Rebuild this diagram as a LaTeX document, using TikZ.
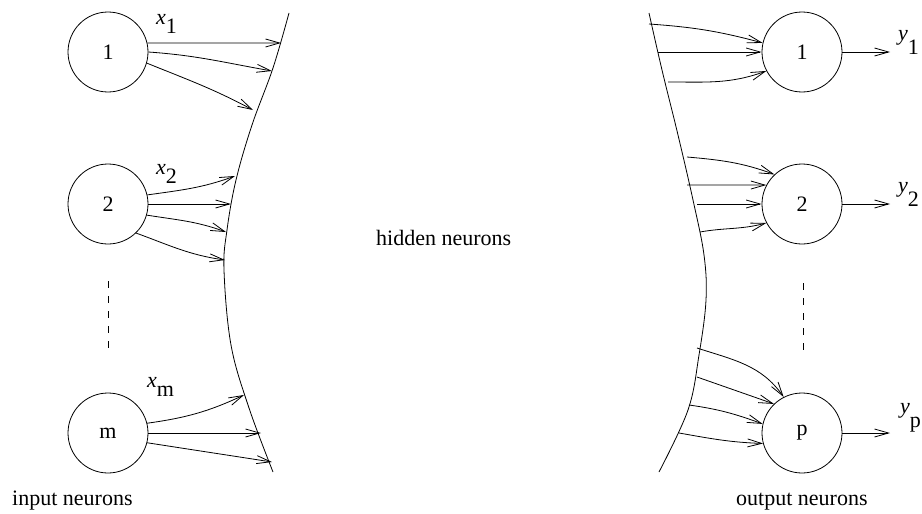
\documentclass[tikz,border=0pt]{standalone}
\usepackage{fontspec}
\setmainfont{Liberation Serif}
\usetikzlibrary{arrows.meta}
\begin{document}
\begin{tikzpicture}[x=1pt,y=-1pt,
  every node/.style={font=\fontsize{22}{26}\selectfont},
  neuron/.style={draw,circle,minimum size=80pt,inner sep=0pt,line width=0.8pt},
  conn/.style={line width=0.8pt,-{Straight Barb[length=14pt,width=8pt,line width=0.8pt]}},
  boundary/.style={line width=0.8pt},
  dots/.style={line width=0.8pt,dash pattern=on 7pt off 8pt},
  lbl/.style={inner sep=0pt,anchor=base west}]
\useasboundingbox (0,0) rectangle (922,514);

% input neurons
\node[neuron] (i1) at (108,52) {1};
\node[neuron] (i2) at (108,204) {2};
\node[neuron] (im) at (108,433) {m};
% output neurons
\node[neuron] (o1) at (802,52) {1};
\node[neuron] (o2) at (802,204) {2};
\node[neuron] (op) at (802,433) {p};

% left boundary of the hidden layer
\coordinate (l11) at (281,43);
\coordinate (l12) at (272,71);
\coordinate (l13) at (253,110);
\coordinate (l21) at (235,176);
\coordinate (l22) at (231,204);
\coordinate (l23) at (226,232);
\coordinate (l24) at (225,260);
\coordinate (lm1) at (244,395);
\coordinate (lm2) at (261,433);
\coordinate (lm3) at (272,462);
\draw[boundary] plot[smooth,tension=0.6] coordinates {(289,13) (273,68) (252,125) (236,180) (227,230) (224,270) (231,345) (249,408) (273,472)};

% right boundary of the hidden layer
\coordinate (r11) at (649,24);
\coordinate (r12) at (658,52);
\coordinate (r13) at (668,82);
\coordinate (r21) at (687,157);
\coordinate (r22) at (687,185);
\coordinate (r23) at (697,204);
\coordinate (r24) at (700,232);
\coordinate (rp1) at (697,348);
\coordinate (rp2) at (697,377);
\coordinate (rp3) at (689,405);
\coordinate (rp4) at (679,433);
\draw[boundary] plot[smooth,tension=0.6] coordinates {(649,13) (662,70) (678,135) (693,200) (704,255) (706,300) (699,355) (688,410) (659,472)};

% connections from the input neurons
\draw[conn] (i1.13) -- (l11);
\draw[conn] (i1.east) to[out=-4,in=170] (l12);
\draw[conn] (i1.-16) to[out=-22,in=152] (l13);
\draw[conn] (i2.13) to[out=8,in=-160] (l21);
\draw[conn] (i2.east) -- (l22);
\draw[conn] (i2.-16) to[out=-9,in=160] (l23);
\draw[conn] (i2.-46) to[out=-20,in=172] (l24);
\draw[conn] (im.14) to[out=8,in=-155] (lm1);
\draw[conn] (im.east) -- (lm2);
\draw[conn] (im.-14) -- (lm3);

% connections into the output neurons
\draw[conn] (r11) to[out=-4,in=165] (o1.167);
\draw[conn] (r12) -- (o1.west);
\draw[conn] (r13) to[out=0,in=-160] (o1.208);
\draw[conn] (r21) to[out=-5,in=160] (o2.133);
\draw[conn] (r22) -- (o2.152);
\draw[conn] (r23) -- (o2.west);
\draw[conn] (r24) to[out=10,in=-165] (o2.208);
\draw[conn] (rp1) to[out=-18,in=125] (op.117);
\draw[conn] (rp2) -- (op.134);
\draw[conn] (rp3) to[out=-8,in=160] (op.167);
\draw[conn] (rp4) to[out=-10,in=178] (op.195);

% outputs
\coordinate (y1) at (890,52);
\coordinate (y2) at (890,204);
\coordinate (yp) at (890,433);
\draw[conn] (o1.east) -- (y1);
\draw[conn] (o2.east) -- (y2);
\draw[conn] (op.east) -- (yp);

% ellipsis between neurons
\coordinate (ldt) at (108,281);
\coordinate (ldb) at (108,348);
\coordinate (rdt) at (803,283);
\coordinate (rdb) at (803,350);
\draw[dots] (ldt) -- (ldb);
\draw[dots] (rdt) -- (rdb);

% signal labels
\node[lbl] (xl1) at (156,24) {\textit{x}\raisebox{-9pt}{1}};
\node[lbl] (xl2) at (156,174) {\textit{x}\raisebox{-9pt}{2}};
\node[lbl] (xlm) at (147,387) {\textit{x}\raisebox{-9pt}{m}};
\node[lbl] (yl1) at (898,40) {\textit{y}\raisebox{-14pt}{1}};
\node[lbl] (yl2) at (898,192) {\textit{y}\raisebox{-14pt}{2}};
\node[lbl] (ylp) at (900,413) {\textit{y}\raisebox{-14pt}{p}};

% layer names
\node[lbl] (tin) at (12,505) {input neurons};
\node[lbl] (thid) at (376,245) {hidden neurons};
\node[lbl] (tout) at (736,505) {output neurons};
\end{tikzpicture}
\end{document}
